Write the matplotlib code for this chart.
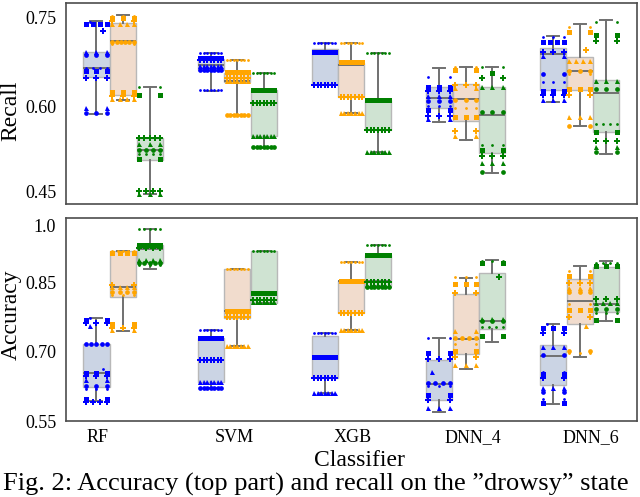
import matplotlib.pyplot as plt
import numpy as np

plt.rcParams['font.family'] = ['Liberation Serif', 'DejaVu Serif']

classifiers = ['RF', 'SVM', 'XGB', 'DNN_4', 'DNN_6']
hues = ['blue', 'orange', 'green']

# box stats per classifier: (whisker low, q1, median, q3, whisker high)
recall_blue = [(0.584, 0.647, 0.663, 0.690, 0.744), (0.624, 0.659, 0.668, 0.678, 0.688),
               (0.634, 0.636, 0.691, 0.695, 0.706), (0.570, 0.594, 0.611, 0.630, 0.663),
               (0.604, 0.625, 0.687, 0.698, 0.718)]
recall_orange = [(0.607, 0.616, 0.709, 0.740, 0.754), (0.582, 0.639, 0.641, 0.654, 0.677),
                 (0.586, 0.613, 0.668, 0.672, 0.705), (0.539, 0.572, 0.609, 0.635, 0.665),
                 (0.563, 0.625, 0.657, 0.681, 0.738)]
recall_green = [(0.447, 0.505, 0.522, 0.542, 0.631), (0.526, 0.546, 0.603, 0.625, 0.655),
                (0.519, 0.557, 0.607, 0.608, 0.688), (0.482, 0.516, 0.582, 0.630, 0.665),
                (0.515, 0.552, 0.620, 0.643, 0.745)]

acc_blue = [(0.593, 0.624, 0.654, 0.718, 0.773), (0.622, 0.635, 0.682, 0.730, 0.748),
            (0.610, 0.643, 0.692, 0.734, 0.741), (0.570, 0.596, 0.631, 0.683, 0.730),
            (0.588, 0.629, 0.692, 0.714, 0.761)]
acc_orange = [(0.745, 0.820, 0.840, 0.918, 0.918), (0.713, 0.773, 0.789, 0.881, 0.881),
              (0.747, 0.785, 0.853, 0.853, 0.895), (0.663, 0.695, 0.728, 0.826, 0.860),
              (0.690, 0.761, 0.811, 0.858, 0.887)]
acc_green = [(0.881, 0.892, 0.924, 0.933, 0.967), (0.807, 0.807, 0.827, 0.918, 0.918),
             (0.842, 0.842, 0.853, 0.910, 0.932), (0.721, 0.749, 0.767, 0.871, 0.899),
             (0.767, 0.787, 0.805, 0.885, 0.897)]

# individual runs: (value, how many runs share it)
recall_blue_pts = [
    [(0.742, 1), (0.738, 4), (0.726, 1), (0.690, 3), (0.686, 3), (0.663, 4), (0.658, 3), (0.646, 3), (0.594, 2), (0.586, 3)],
    [(0.688, 7), (0.680, 7), (0.676, 7), (0.667, 7), (0.660, 7), (0.625, 7)],
    [(0.706, 7), (0.691, 7), (0.634, 7)],
    [(0.647, 2), (0.630, 3), (0.624, 3), (0.614, 3), (0.606, 3), (0.598, 3), (0.591, 2), (0.580, 3), (0.576, 2)],
    [(0.716, 3), (0.708, 4), (0.690, 3), (0.683, 2), (0.652, 2), (0.638, 3), (0.624, 3), (0.616, 3), (0.608, 3)]]
recall_orange_pts = [
    [(0.753, 3), (0.748, 3), (0.744, 2), (0.738, 4), (0.708, 6), (0.704, 2), (0.622, 3), (0.615, 3), (0.610, 4)],
    [(0.677, 7), (0.656, 7), (0.645, 7), (0.640, 7), (0.582, 7)],
    [(0.705, 7), (0.673, 7), (0.613, 7), (0.586, 7)],
    [(0.664, 2), (0.660, 2), (0.634, 3), (0.628, 2), (0.608, 3), (0.594, 3), (0.578, 3), (0.555, 2), (0.546, 2)],
    [(0.733, 2), (0.725, 2), (0.694, 1), (0.675, 4), (0.657, 3), (0.652, 2), (0.627, 3), (0.616, 2), (0.578, 3), (0.563, 2)]]
recall_green_pts = [
    [(0.630, 2), (0.616, 2), (0.543, 5), (0.532, 3), (0.522, 4), (0.515, 4), (0.506, 2), (0.452, 4), (0.447, 3)],
    [(0.655, 7), (0.625, 7), (0.602, 7), (0.546, 7), (0.527, 7)],
    [(0.688, 7), (0.607, 7), (0.557, 7), (0.519, 7)],
    [(0.665, 2), (0.655, 1), (0.645, 2), (0.630, 3), (0.587, 3), (0.530, 3), (0.522, 2), (0.512, 3), (0.500, 3), (0.484, 2)],
    [(0.742, 2), (0.720, 2), (0.709, 2), (0.640, 3), (0.626, 3), (0.566, 4), (0.552, 2), (0.537, 3), (0.527, 2), (0.518, 2)]]

acc_blue_pts = [
    [(0.773, 1), (0.770, 2), (0.763, 3), (0.757, 1), (0.717, 5), (0.663, 1), (0.654, 3), (0.648, 3), (0.640, 2), (0.627, 3), (0.620, 3), (0.597, 2), (0.591, 4)],
    [(0.748, 7), (0.730, 7), (0.682, 7), (0.635, 7), (0.622, 7)],
    [(0.741, 7), (0.690, 7), (0.643, 7), (0.610, 7)],
    [(0.730, 2), (0.697, 2), (0.684, 3), (0.657, 1), (0.633, 4), (0.627, 3), (0.606, 2), (0.595, 2), (0.578, 3)],
    [(0.761, 1), (0.752, 3), (0.742, 2), (0.710, 3), (0.693, 2), (0.657, 2), (0.652, 2), (0.643, 2), (0.622, 3), (0.614, 2), (0.598, 2), (0.590, 2)]]
acc_orange_pts = [
    [(0.918, 5), (0.914, 4), (0.845, 2), (0.840, 4), (0.829, 4), (0.824, 3), (0.760, 2), (0.752, 3), (0.748, 2)],
    [(0.881, 7), (0.789, 7), (0.775, 7), (0.713, 7)],
    [(0.895, 7), (0.853, 7), (0.785, 7), (0.747, 7)],
    [(0.862, 3), (0.848, 3), (0.828, 2), (0.745, 2), (0.730, 4), (0.717, 2), (0.702, 2), (0.688, 2), (0.672, 3)],
    [(0.876, 2), (0.865, 2), (0.849, 3), (0.838, 3), (0.829, 3), (0.804, 2), (0.790, 3), (0.775, 2), (0.757, 1), (0.703, 2), (0.697, 3)]]
acc_green_pts = [
    [(0.966, 5), (0.932, 6), (0.926, 4), (0.900, 4), (0.893, 5), (0.889, 3)],
    [(0.918, 7), (0.828, 7), (0.813, 7), (0.808, 7)],
    [(0.932, 7), (0.910, 7), (0.852, 7), (0.845, 7), (0.840, 7)],
    [(0.897, 3), (0.892, 2), (0.862, 1), (0.771, 3), (0.766, 3), (0.753, 4), (0.735, 2)],
    [(0.894, 4), (0.886, 3), (0.815, 3), (0.806, 4), (0.794, 3), (0.785, 3), (0.770, 2)]]

box_faces = ['#cbd4e4', '#f1dccd', '#cfe3d2']
markers = ['.', 's', 'P', '^', 'o']
msizes = {'.': 4, 's': 3.6, 'P': 4.2, '^': 3.6, 'o': 3.4}
w = 0.233


def draw_panel(ax, stats_list, pts_list):
    for h in range(3):
        pos = np.arange(len(classifiers)) + (h - 1) * w
        bx = [dict(whislo=s[0], q1=s[1], med=s[2], q3=s[3], whishi=s[4], fliers=[])
              for s in stats_list[h]]
        ax.bxp(bx, positions=pos, widths=w * 0.98, patch_artist=True, showfliers=False,
               capwidths=w * 0.45, manage_ticks=False,
               boxprops=dict(facecolor=box_faces[h], edgecolor='#b8b8b8', lw=1),
               whiskerprops=dict(color='#707070', lw=1.4),
               capprops=dict(color='#707070', lw=1.4),
               medianprops=dict(color='#707070', lw=1.4))
        for i in range(len(classifiers)):
            for gi, (v, n) in enumerate(pts_list[h][i]):
                if n > 1:
                    xs = pos[i] + np.linspace(-0.4, 0.4, n) * w
                else:
                    xs = [pos[i] + (gi % 3 - 1) * 0.25 * w]
                m = markers[gi % len(markers)]
                ax.plot(xs, [v] * n, ls='none', marker=m, color=hues[h],
                        ms=msizes[m], mew=0, zorder=3)
    ax.set_xlim(-0.5, len(classifiers) - 0.5)
    for sp in ax.spines.values():
        sp.set_color('#4d4d4d')
        sp.set_linewidth(1.2)
    ax.tick_params(length=0, labelsize=13, pad=7)


fig = plt.figure(figsize=(6.4, 4.97), dpi=100)
ax_top = fig.add_axes([0.1031, 0.5895, 0.892, 0.405])
ax_bot = fig.add_axes([0.1031, 0.1529, 0.892, 0.4079])

draw_panel(ax_top, [recall_blue, recall_orange, recall_green],
           [recall_blue_pts, recall_orange_pts, recall_green_pts])
draw_panel(ax_bot, [acc_blue, acc_orange, acc_green],
           [acc_blue_pts, acc_orange_pts, acc_green_pts])

ax_top.set_ylim(0.429, 0.775)
ax_top.set_yticks([0.45, 0.596, 0.75], ['0.45', '0.60', '0.75'])
ax_top.set_xticks([])

ax_bot.set_ylim(0.55, 0.99)
ax_bot.set_yticks([0.55, 0.70, 0.85, 0.974], ['0.55', '0.70', '0.85', '1.0'])
ax_bot.set_xticks([-0.22, 0.97, 2.01, 3.06, 4.1], classifiers)
ax_bot.tick_params(axis='x', pad=6)

fig.text(11 / 640, 0.7767, 'Recall', rotation=90, ha='center', va='center', fontsize=17)
fig.text(11 / 640, 0.3662, 'Accuracy', rotation=90, ha='center', va='center', fontsize=17)
fig.text(359 / 640, 1 - 466 / 497, 'Classifier', ha='center', va='baseline', fontsize=17)
fig.text(3 / 640, 0.013, 'Fig. 2: Accuracy (top part) and recall on the \u201ddrowsy\u201d state',
         ha='left', va='baseline', fontsize=19)

fig.savefig('out.png', dpi=100)
